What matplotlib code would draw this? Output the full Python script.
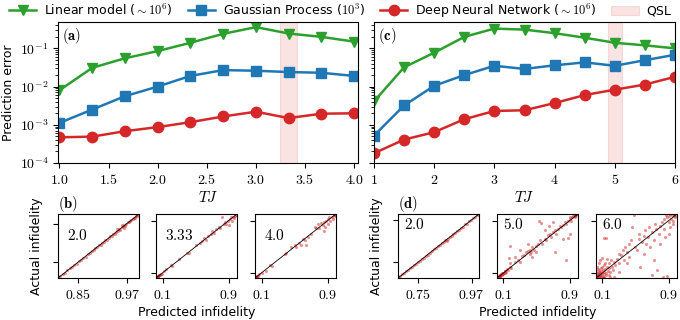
import numpy as np
import matplotlib
matplotlib.use("Agg")
import matplotlib.pyplot as plt
from matplotlib.ticker import FuncFormatter, LogLocator, FixedLocator

plt.rcParams["mathtext.fontset"] = "cm"
plt.rcParams["font.family"] = ["DejaVu Sans"]
plt.rcParams["font.size"] = 9

# prediction error vs TJ, left panel (a)
tj_a = [1.0, 1.333, 1.667, 2.0, 2.333, 2.667, 3.0, 3.333, 3.667, 4.0]
lin_a = [8e-3, 0.031, 0.055, 0.085, 0.14, 0.24, 0.36, 0.245, 0.2, 0.15]
gp_a = [1.12e-3, 2.5e-3, 5.6e-3, 0.0100, 0.019, 0.027, 0.026, 0.024, 0.023, 0.019]
dnn_a = [4.7e-4, 4.9e-4, 6.8e-4, 8.7e-4, 1.17e-3, 1.65e-3, 2.2e-3, 1.5e-3, 1.95e-3, 2.0e-3]
qsl_a = (3.25, 3.42)

# prediction error vs TJ, right panel (c)
tj_c = [1.0, 1.5, 2.0, 2.5, 3.0, 3.5, 4.0, 4.5, 5.0, 5.5, 6.0]
lin_c = [4.1e-3, 0.032, 0.077, 0.2, 0.33, 0.31, 0.25, 0.19, 0.14, 0.12, 0.1]
gp_c = [5.2e-4, 3.2e-3, 0.0105, 0.02, 0.035, 0.029, 0.036, 0.043, 0.035, 0.049, 0.068]
dnn_c = [1.8e-4, 4.1e-4, 6.4e-4, 1.4e-3, 2.3e-3, 2.4e-3, 3.7e-3, 6.0e-3, 8.3e-3, 0.0113, 0.018]
qsl_c = (4.88, 5.12)

# (predicted, actual) infidelity samples for the small panels
b1_pts = [(0.801, 0.802), (0.806, 0.805), (0.812, 0.813), (0.818, 0.817), (0.823, 0.824),
          (0.829, 0.830), (0.835, 0.834), (0.840, 0.841), (0.846, 0.845), (0.852, 0.853),
          (0.857, 0.856), (0.862, 0.863), (0.868, 0.867), (0.873, 0.874), (0.878, 0.877),
          (0.883, 0.884), (0.888, 0.887), (0.892, 0.893), (0.897, 0.896), (0.901, 0.902),
          (0.905, 0.904), (0.909, 0.910), (0.913, 0.912), (0.917, 0.918), (0.921, 0.920),
          (0.925, 0.926), (0.929, 0.931), (0.933, 0.932), (0.936, 0.939), (0.940, 0.938),
          (0.943, 0.945), (0.947, 0.946), (0.950, 0.952), (0.953, 0.951), (0.957, 0.958),
          (0.960, 0.961), (0.963, 0.965), (0.966, 0.964), (0.969, 0.970), (0.972, 0.974),
          (0.975, 0.974), (0.978, 0.979), (0.981, 0.982), (0.984, 0.983), (0.987, 0.988),
          (0.990, 0.989), (0.993, 0.994), (0.996, 0.995), (0.999, 0.998), (0.945, 0.952),
          (0.958, 0.966), (0.962, 0.955)]
b2_pts = [(0.025, 0.03), (0.03, 0.028), (0.035, 0.04), (0.04, 0.037), (0.045, 0.05),
          (0.05, 0.048), (0.055, 0.06), (0.06, 0.062), (0.07, 0.068), (0.08, 0.085),
          (0.09, 0.088), (0.12, 0.125), (0.14, 0.165), (0.2, 0.225), (0.21, 0.2),
          (0.3, 0.31), (0.4, 0.4), (0.42, 0.41), (0.5, 0.52), (0.55, 0.56),
          (0.58, 0.59), (0.6, 0.63), (0.62, 0.6), (0.65, 0.66), (0.68, 0.7),
          (0.7, 0.74), (0.72, 0.71), (0.75, 0.77), (0.78, 0.8), (0.8, 0.79),
          (0.82, 0.95), (0.84, 0.85), (0.86, 0.87), (0.87, 0.84), (0.89, 0.9),
          (0.9, 0.83), (0.92, 0.93), (0.94, 0.9), (0.95, 0.96), (0.97, 0.97),
          (0.99, 0.99), (0.96, 0.94), (0.93, 0.95)]
b3_pts = [(0.025, 0.028), (0.03, 0.035), (0.035, 0.03), (0.04, 0.045), (0.05, 0.05),
          (0.06, 0.055), (0.07, 0.075), (0.1, 0.1), (0.15, 0.13), (0.2, 0.22),
          (0.22, 0.2), (0.38, 0.38), (0.4, 0.41), (0.45, 0.5), (0.5, 0.53),
          (0.52, 0.5), (0.55, 0.56), (0.58, 0.52), (0.6, 0.62), (0.62, 0.6),
          (0.64, 0.52), (0.66, 0.65), (0.7, 0.69), (0.74, 0.8), (0.76, 0.78),
          (0.78, 0.84), (0.8, 0.79), (0.82, 0.86), (0.84, 0.83), (0.85, 0.74),
          (0.86, 0.88), (0.87, 0.8), (0.88, 0.9), (0.9, 0.85), (0.9, 0.92),
          (0.92, 0.95), (0.93, 0.9), (0.95, 0.96), (0.96, 0.93), (0.98, 0.99),
          (0.97, 0.98), (0.99, 0.97)]
d1_pts = [(0.672, 0.673), (0.68, 0.679), (0.688, 0.689), (0.696, 0.695), (0.704, 0.705),
          (0.712, 0.711), (0.72, 0.721), (0.728, 0.727), (0.736, 0.737), (0.744, 0.743),
          (0.752, 0.753), (0.76, 0.759), (0.768, 0.769), (0.776, 0.775), (0.784, 0.785),
          (0.792, 0.791), (0.8, 0.801), (0.808, 0.807), (0.816, 0.817), (0.824, 0.823),
          (0.832, 0.833), (0.84, 0.839), (0.848, 0.849), (0.856, 0.855), (0.864, 0.866),
          (0.872, 0.871), (0.88, 0.882), (0.888, 0.887), (0.896, 0.898), (0.904, 0.903),
          (0.912, 0.914), (0.92, 0.919), (0.928, 0.93), (0.936, 0.935), (0.944, 0.946),
          (0.952, 0.951), (0.96, 0.962), (0.968, 0.967), (0.976, 0.977), (0.984, 0.983),
          (0.992, 0.993), (0.998, 0.997), (0.86, 0.868), (0.87, 0.862)]
d2_pts = [(0.03, 0.035), (0.035, 0.03), (0.04, 0.045), (0.04, 0.038), (0.045, 0.05),
          (0.05, 0.042), (0.05, 0.055), (0.055, 0.06), (0.06, 0.05), (0.06, 0.065),
          (0.065, 0.07), (0.07, 0.06), (0.07, 0.08), (0.075, 0.072), (0.08, 0.09),
          (0.085, 0.075), (0.09, 0.1), (0.095, 0.085), (0.1, 0.11), (0.1, 0.095),
          (0.11, 0.1), (0.12, 0.13), (0.12, 0.11), (0.13, 0.14), (0.14, 0.12),
          (0.15, 0.17), (0.16, 0.15), (0.18, 0.2), (0.19, 0.25), (0.2, 0.18),
          (0.19, 0.52), (0.17, 0.33), (0.25, 0.35), (0.25, 0.27), (0.28, 0.3),
          (0.3, 0.28), (0.33, 0.36), (0.35, 0.38), (0.38, 0.42), (0.4, 0.44),
          (0.42, 0.4), (0.43, 0.46), (0.45, 0.5), (0.44, 0.42), (0.47, 0.45),
          (0.5, 0.52), (0.52, 0.55), (0.55, 0.6), (0.57, 0.55), (0.6, 0.62),
          (0.62, 0.6), (0.64, 0.68), (0.66, 0.7), (0.68, 0.65), (0.7, 0.72),
          (0.72, 0.76), (0.74, 0.7), (0.76, 0.78), (0.78, 0.82), (0.8, 0.8),
          (0.82, 0.84), (0.84, 0.88), (0.86, 0.85), (0.88, 0.9), (0.9, 0.92),
          (0.91, 0.95), (0.92, 0.9), (0.93, 0.96), (0.94, 0.97), (0.95, 0.98),
          (0.96, 0.99), (0.97, 0.97), (0.98, 0.99), (0.96, 0.95), (0.99, 1.0),
          (0.53, 0.9), (0.56, 0.87), (0.6, 0.75), (0.65, 0.82), (0.73, 0.42),
          (0.86, 0.3), (0.88, 0.63), (0.82, 0.62), (0.9, 0.7), (0.3, 0.45),
          (0.4, 0.55), (0.7, 0.88), (0.5, 0.42), (0.45, 0.35)]
d3_pts = [(0.03, 0.04), (0.035, 0.06), (0.04, 0.03), (0.04, 0.08), (0.045, 0.05),
          (0.05, 0.1), (0.05, 0.035), (0.055, 0.07), (0.06, 0.12), (0.06, 0.045),
          (0.065, 0.09), (0.07, 0.05), (0.07, 0.15), (0.075, 0.08), (0.08, 0.11),
          (0.08, 0.04), (0.085, 0.18), (0.09, 0.07), (0.09, 0.13), (0.1, 0.06),
          (0.1, 0.2), (0.105, 0.1), (0.11, 0.15), (0.11, 0.04), (0.12, 0.22),
          (0.12, 0.09), (0.13, 0.12), (0.13, 0.05), (0.14, 0.17), (0.14, 0.25),
          (0.15, 0.1), (0.15, 0.07), (0.16, 0.2), (0.17, 0.14), (0.18, 0.08),
          (0.18, 0.26), (0.19, 0.18), (0.2, 0.12), (0.21, 0.3), (0.22, 0.2),
          (0.23, 0.15), (0.24, 0.28), (0.25, 0.05), (0.26, 0.22), (0.28, 0.32),
          (0.3, 0.25), (0.31, 0.12), (0.06, 0.25), (0.08, 0.3), (0.04, 0.2),
          (0.035, 0.14), (0.1, 0.33), (0.03, 0.1), (0.05, 0.16), (0.12, 0.035),
          (0.2, 0.04), (0.16, 0.32),
          (0.12, 0.63), (0.15, 0.63), (0.33, 0.38), (0.35, 0.45), (0.36, 0.3),
          (0.38, 0.5), (0.4, 0.42), (0.42, 0.35), (0.43, 0.55), (0.45, 0.6),
          (0.46, 0.8), (0.48, 0.98), (0.5, 0.5), (0.52, 0.45), (0.54, 0.62),
          (0.55, 0.7), (0.56, 0.2), (0.58, 0.58), (0.6, 0.66), (0.6, 0.4),
          (0.62, 0.75), (0.63, 0.55), (0.65, 0.65), (0.66, 0.8), (0.68, 0.5),
          (0.7, 0.07), (0.7, 0.72), (0.72, 0.6), (0.73, 0.3), (0.74, 0.85),
          (0.75, 0.77), (0.76, 0.15), (0.78, 0.7), (0.8, 0.82), (0.8, 0.55),
          (0.82, 0.88), (0.83, 0.05), (0.84, 0.78), (0.85, 0.92), (0.86, 0.65),
          (0.88, 0.95), (0.88, 0.06), (0.9, 0.88), (0.91, 0.97), (0.92, 0.8),
          (0.93, 0.93), (0.94, 0.99), (0.95, 0.9), (0.96, 0.97), (0.97, 1.0),
          (0.98, 0.95), (0.99, 0.99), (0.9, 0.7), (0.95, 0.85), (0.4, 0.25),
          (0.3, 0.4), (0.87, 0.98), (0.92, 1.0)]

small_labels = ["2.0", "3.33", "4.0", "2.0", "5.0", "6.0"]
small_lims = [(0.8, 1.0), (0.02, 1.0), (0.02, 1.0), (0.67, 1.0), (0.03, 1.0), (0.03, 1.0)]
small_ticks = [[0.85, 0.97], [0.1, 0.9], [0.1, 0.9], [0.75, 0.97], [0.1, 0.9], [0.1, 0.9]]

c_lin, c_gp, c_dnn = "#2ca02c", "#1f77b4", "#d62728"

fig = plt.figure(figsize=(6.8, 3.2), dpi=100)
W, H = 680.0, 320.0
ax_a = fig.add_axes([58 / W, (H - 163) / H, 300 / W, 141 / H])
ax_c = fig.add_axes([374 / W, (H - 163) / H, 301 / W, 141 / H], sharey=ax_a)

logfmt = FuncFormatter(lambda v, p: r"$10^{%d}$" % int(round(np.log10(v))))

for ax, tj, lin, gp, dnn, qsl, lab in [(ax_a, tj_a, lin_a, gp_a, dnn_a, qsl_a, "a"),
                                       (ax_c, tj_c, lin_c, gp_c, dnn_c, qsl_c, "c")]:
    ax.plot(tj, lin, "-v", color=c_lin, lw=1.8, ms=7.5, label=r"Linear model ($\sim 10^6$)")
    ax.plot(tj, gp, "-s", color=c_gp, lw=1.8, ms=7, label=r"Gaussian Process ($10^3$)")
    ax.plot(tj, dnn, "-o", color=c_dnn, lw=1.8, ms=7.5, label=r"Deep Neural Network ($\sim 10^6$)")
    ax.axvspan(qsl[0], qsl[1], color=c_dnn, alpha=0.13, lw=0.8, label="QSL")
    ax.set_yscale("log")
    ax.set_ylim(1e-4, 0.49)
    ax.yaxis.set_major_locator(LogLocator(base=10, numticks=10))
    ax.yaxis.set_major_formatter(logfmt)
    ax.set_xlabel(r"$TJ$", fontsize=11, labelpad=2)
    ax.text(0.012, 0.97, r"$\mathbf{(%s)}$" % lab, transform=ax.transAxes,
            ha="left", va="top", fontsize=10.5)
    ax.tick_params(labelsize=10)

ax_a.set_xlim(0.985, 4.04)
ax_a.set_xticks([1.0, 1.5, 2.0, 2.5, 3.0, 3.5, 4.0])
ax_a.xaxis.set_major_formatter(FuncFormatter(lambda v, p: r"$%.1f$" % v))
ax_a.set_ylabel("Prediction error", fontsize=9, labelpad=3)
ax_c.set_xlim(1.0, 6.0)
ax_c.set_xticks([1, 2, 3, 4, 5, 6])
ax_c.xaxis.set_major_formatter(FuncFormatter(lambda v, p: r"$%d$" % v))
ax_c.tick_params(axis="y", labelleft=False)

handles, labels = ax_a.get_legend_handles_labels()
fig.legend(handles, labels, loc="upper center", bbox_to_anchor=(0.5, 1.03), ncol=4,
           frameon=False, fontsize=9, handlelength=2.2, columnspacing=1.2, handletextpad=0.6)

# small scatter panels
lefts = [58, 156, 255, 398, 497, 596]
all_pts = [b1_pts, b2_pts, b3_pts, d1_pts, d2_pts, d3_pts]
small_axes = []
for i in range(6):
    ax = fig.add_axes([lefts[i] / W, (H - 278) / H, 81 / W, 64 / H])
    small_axes.append(ax)
    pts = np.array(all_pts[i])
    lo, hi = small_lims[i]
    ax.scatter(pts[:, 0], pts[:, 1], s=5, color=c_dnn, alpha=0.5, linewidths=0)
    ax.plot([lo, hi], [lo, hi], color="k", lw=0.6)
    ax.set_xlim(lo, hi)
    ax.set_ylim(lo, hi)
    ax.xaxis.set_major_locator(FixedLocator(small_ticks[i]))
    ax.yaxis.set_major_locator(FixedLocator(small_ticks[i]))
    ax.xaxis.set_major_formatter(FuncFormatter(lambda v, p: r"$%g$" % v))
    ax.tick_params(labelleft=False, labelsize=10)
    if i < 3:
        ax.text(0.11, 0.66, r"$%s$" % small_labels[i], transform=ax.transAxes,
                ha="left", va="center", fontsize=11)
    else:
        ax.text(0.07, 0.84, r"$%s$" % small_labels[i], transform=ax.transAxes,
                ha="left", va="center", fontsize=11)

for k in (0, 3):
    small_axes[k].set_ylabel("Actual infidelity", fontsize=9, labelpad=7)
for k in (1, 4):
    small_axes[k].set_xlabel("Predicted infidelity", fontsize=9, labelpad=3)

fig.text(58 / W, 1 - 204 / H, r"$\mathbf{(b)}$", ha="left", va="center", fontsize=10.5)
fig.text(398 / W, 1 - 204 / H, r"$\mathbf{(d)}$", ha="left", va="center", fontsize=10.5)

fig.savefig("out.png", dpi=100)
